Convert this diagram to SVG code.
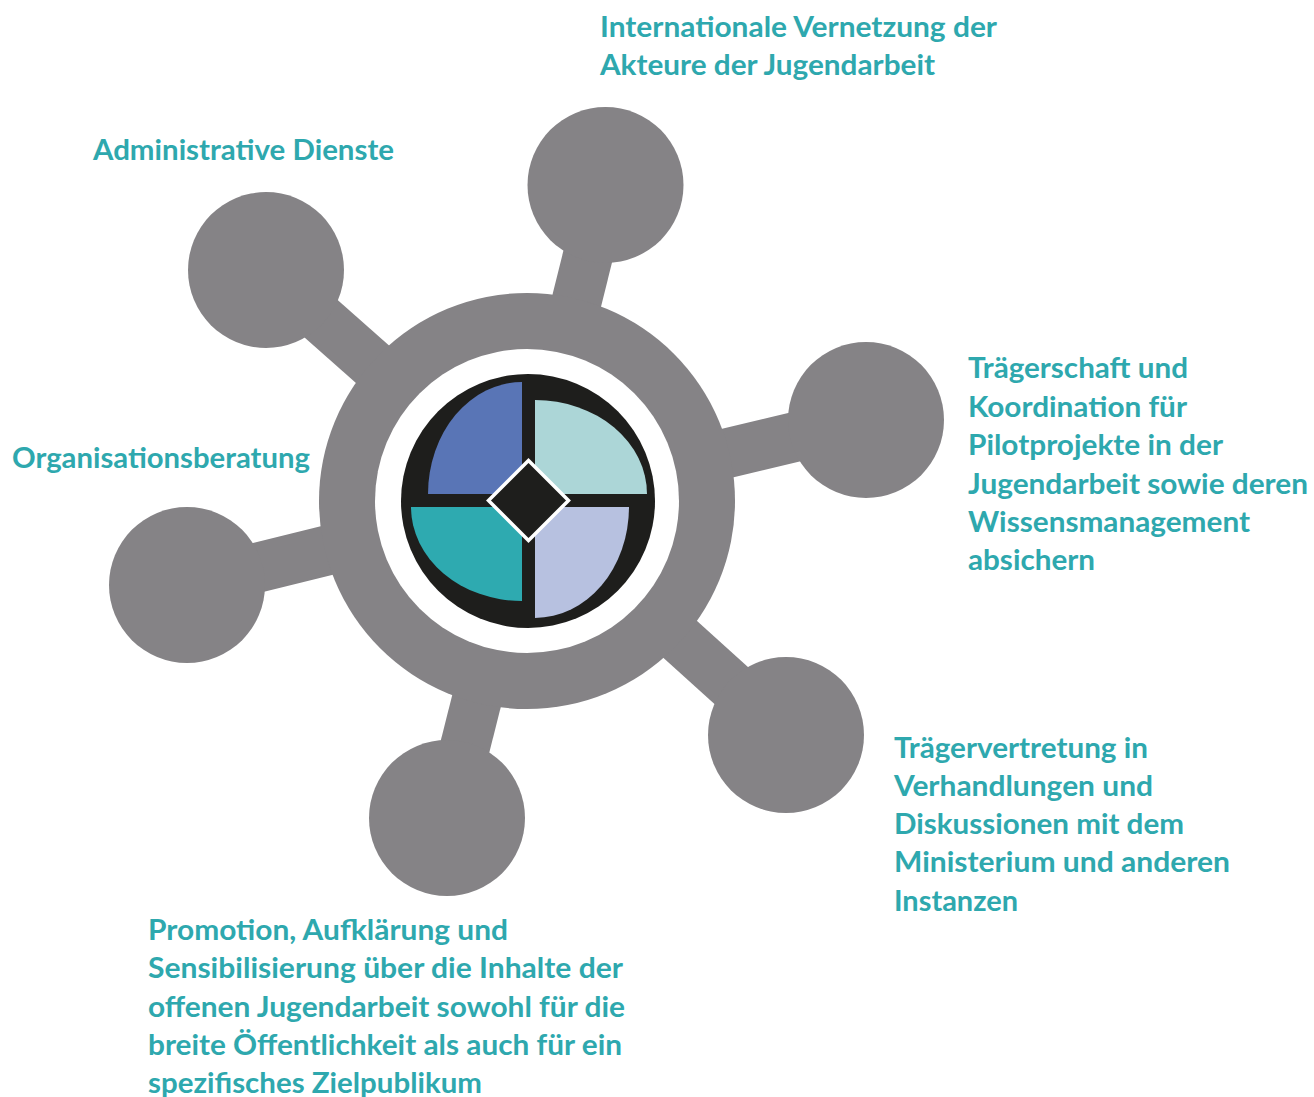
<svg xmlns="http://www.w3.org/2000/svg" width="1314" height="1097" viewBox="0 0 1314 1097">
<style>
.lbl{font-family:Lato,"Open Sans","Liberation Sans",sans-serif;font-weight:700;font-size:28px;fill:#2ea8ae}
.gray{fill:#858386}
.spoke{stroke:#858386;stroke-width:50;fill:none}
</style>
<rect width="1314" height="1097" fill="#ffffff"/>
<g id="connectors">
<line class="spoke" x1="527" y1="501" x2="605.5" y2="185"/>
<line class="spoke" x1="527" y1="501" x2="266" y2="270"/>
<line class="spoke" x1="527" y1="501" x2="866" y2="420"/>
<line class="spoke" x1="527" y1="501" x2="187" y2="585"/>
<line class="spoke" x1="527" y1="501" x2="786" y2="735"/>
<line class="spoke" x1="527" y1="501" x2="447" y2="818"/>
</g>
<g id="hub">
<circle class="gray" cx="527" cy="501" r="208"/>
<circle cx="527" cy="501" r="152" fill="#ffffff"/>
<circle cx="528" cy="501" r="127" fill="#1e1e1c"/>
<path d="M522,494 L428,494 A94,112 0 0 1 522,382 Z" fill="#5975b6"/>
<path d="M535,494 L535,400 A112,94 0 0 1 647,494 Z" fill="#acd6d7"/>
<path d="M535,507 L629,507 A94,111 0 0 1 535,618 Z" fill="#b7c1e0"/>
<path d="M522,507 L522,601 A111,94 0 0 1 411,507 Z" fill="#2eaab0"/>
<polygon points="528.5,460.5 568.5,500.5 528.5,540.5 488.5,500.5" fill="#1e1e1c" stroke="#ffffff" stroke-width="3.5"/>
</g>
<g id="node-international">
<circle class="gray" cx="605.5" cy="185" r="78"/>
<text class="lbl" x="600" y="37" textLength="397" lengthAdjust="spacingAndGlyphs">Internationale Vernetzung der</text>
<text class="lbl" x="600" y="75" textLength="335" lengthAdjust="spacingAndGlyphs">Akteure der Jugendarbeit</text>
</g>
<g id="node-administrative">
<circle class="gray" cx="266" cy="270" r="78"/>
<text class="lbl" x="93" y="160" textLength="301" lengthAdjust="spacingAndGlyphs">Administrative Dienste</text>
</g>
<g id="node-traegerschaft">
<circle class="gray" cx="866" cy="420" r="78"/>
<text class="lbl" x="968" y="378" textLength="220" lengthAdjust="spacingAndGlyphs">Trägerschaft und</text>
<text class="lbl" x="968" y="417" textLength="219" lengthAdjust="spacingAndGlyphs">Koordination für</text>
<text class="lbl" x="968" y="455" textLength="255" lengthAdjust="spacingAndGlyphs">Pilotprojekte in der</text>
<text class="lbl" x="968" y="494" textLength="340" lengthAdjust="spacingAndGlyphs">Jugendarbeit sowie deren</text>
<text class="lbl" x="968" y="532" textLength="282" lengthAdjust="spacingAndGlyphs">Wissensmanagement</text>
<text class="lbl" x="968" y="570" textLength="127" lengthAdjust="spacingAndGlyphs">absichern</text>
</g>
<g id="node-organisation">
<circle class="gray" cx="187" cy="585" r="78"/>
<text class="lbl" x="12" y="468" textLength="298" lengthAdjust="spacingAndGlyphs">Organisationsberatung</text>
</g>
<g id="node-traegervertretung">
<circle class="gray" cx="786" cy="735" r="78"/>
<text class="lbl" x="894" y="758" textLength="254" lengthAdjust="spacingAndGlyphs">Trägervertretung in</text>
<text class="lbl" x="894" y="796" textLength="259" lengthAdjust="spacingAndGlyphs">Verhandlungen und</text>
<text class="lbl" x="894" y="834" textLength="290" lengthAdjust="spacingAndGlyphs">Diskussionen mit dem</text>
<text class="lbl" x="894" y="872" textLength="336" lengthAdjust="spacingAndGlyphs">Ministerium und anderen</text>
<text class="lbl" x="894" y="911" textLength="124" lengthAdjust="spacingAndGlyphs">Instanzen</text>
</g>
<g id="node-promotion">
<circle class="gray" cx="447" cy="818" r="78"/>
<text class="lbl" x="148" y="940" textLength="360" lengthAdjust="spacingAndGlyphs">Promotion, Aufklärung und</text>
<text class="lbl" x="148" y="978" textLength="475" lengthAdjust="spacingAndGlyphs">Sensibilisierung über die Inhalte der</text>
<text class="lbl" x="148" y="1017" textLength="477" lengthAdjust="spacingAndGlyphs">offenen Jugendarbeit sowohl für die</text>
<text class="lbl" x="148" y="1055" textLength="474" lengthAdjust="spacingAndGlyphs">breite Öffentlichkeit als auch für ein</text>
<text class="lbl" x="148" y="1093" textLength="334" lengthAdjust="spacingAndGlyphs">spezifisches Zielpublikum</text>
</g>
</svg>
